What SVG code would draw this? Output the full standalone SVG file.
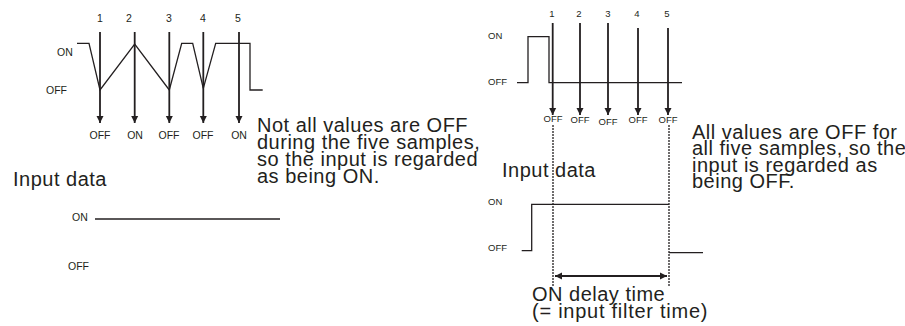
<svg xmlns="http://www.w3.org/2000/svg" width="905" height="326" viewBox="0 0 905 326">
<defs>
<marker id="ah" viewBox="0 0 10 10" refX="10" refY="5" markerWidth="7" markerHeight="8" markerUnits="userSpaceOnUse" orient="auto-start-reverse">
<path d="M0,0 L10,5 L0,10 z" fill="#231f20"/>
</marker>
<style>
.t{font-family:"Liberation Sans",Arial,sans-serif;fill:#231f20}
.big{font-size:20px;letter-spacing:0.5px}
.sm{font-size:10.5px}
.xs{font-size:9.5px}
.w{fill:none;stroke:#231f20;stroke-width:1.3}
.a{fill:none;stroke:#231f20;stroke-width:1.8;marker-end:url(#ah)}
.d{fill:none;stroke:#231f20;stroke-width:1.3;stroke-dasharray:2 1}
</style>
</defs>
<rect width="905" height="326" fill="#fff"/>

<g id="left-samples">
<g class="t sm" text-anchor="middle">
<text x="100" y="22">1</text><text x="129" y="22">2</text><text x="169" y="22">3</text><text x="203" y="22">4</text><text x="238" y="22">5</text>
</g>
<text class="t sm" x="57" y="55.5">ON</text>
<text class="t sm" x="46" y="94">OFF</text>
<polyline class="w" points="77,43.3 89,43.3 100,90 134.7,44 169.3,90 181.7,43.3 192.7,43.3 203.3,88.3 215.7,43.3 250,43.3 250,90 262.7,90"/>
</g>

<g id="connectors">
<line class="a" x1="100" y1="32" x2="100" y2="123"/>
<line class="a" x1="134.7" y1="32" x2="134.7" y2="123"/>
<line class="a" x1="169.3" y1="32" x2="169.3" y2="123"/>
<line class="a" x1="203.3" y1="32" x2="203.3" y2="123"/>
<line class="a" x1="239" y1="32" x2="239" y2="123"/>
<line class="a" x1="552.7" y1="23" x2="552.7" y2="115"/>
<line class="a" x1="580" y1="23" x2="580" y2="115"/>
<line class="a" x1="608" y1="23" x2="608" y2="115"/>
<line class="a" x1="638" y1="28" x2="638" y2="115"/>
<line class="a" x1="668" y1="28" x2="668" y2="115"/>
<line class="d" x1="553" y1="125" x2="553" y2="286"/>
<line class="d" x1="669" y1="125" x2="669" y2="286"/>
<line x1="555" y1="276" x2="667" y2="276" stroke="#231f20" stroke-width="2" marker-start="url(#ah)" marker-end="url(#ah)"/>
</g>

<g id="left-results" class="t sm" text-anchor="middle">
<text x="100" y="138.5">OFF</text><text x="135" y="138.5">ON</text><text x="169" y="138.5">OFF</text><text x="203" y="138.5">OFF</text><text x="239" y="138.5">ON</text>
</g>

<g id="left-note" class="t big">
<text x="257" y="131.5">Not all values are OFF</text>
<text x="257" y="148.5">during the five samples,</text>
<text x="257" y="165.5">so the input is regarded</text>
<text x="257" y="182.5">as being ON.</text>
</g>

<g id="left-input">
<text class="t big" x="13" y="186">Input data</text>
<text class="t sm" x="72" y="220.5">ON</text>
<text class="t sm" x="68" y="270">OFF</text>
<line class="w" x1="95" y1="219" x2="280" y2="219"/>
</g>

<g id="right-samples">
<g class="t xs" text-anchor="middle">
<text x="552" y="17">1</text><text x="579" y="17">2</text><text x="608" y="17">3</text><text x="637" y="17">4</text><text x="667" y="17">5</text>
</g>
<text class="t xs" x="488" y="38.5">ON</text>
<text class="t xs" x="488" y="85">OFF</text>
<polyline class="w" points="517,82.7 528,82.7 528,36.7 549,36.7 549,82.7 682,82.7"/>
</g>

<g id="right-results" class="t xs" text-anchor="middle">
<text x="553" y="121.5">OFF</text><text x="580" y="123">OFF</text><text x="608" y="124.5">OFF</text><text x="638" y="122.5">OFF</text><text x="668" y="123">OFF</text>
</g>

<g id="right-note" class="t big">
<text x="692" y="138.5">All values are OFF for</text>
<text x="692" y="155">all five samples, so the</text>
<text x="692" y="171.5">input is regarded as</text>
<text x="692" y="188">being OFF.</text>
</g>

<g id="right-input">
<text class="t big" x="502" y="177">Input data</text>
<text class="t xs" x="488" y="205">ON</text>
<text class="t xs" x="488" y="251">OFF</text>
<polyline class="w" points="521.7,250.7 531.7,250.7 531.7,204.3 669,204.3"/>
<polyline class="w" points="669,252.7 703,252.7"/>
</g>

<g id="delay-label" class="t big">
<text x="532" y="301">ON delay time</text>
<text x="532" y="318" textLength="176" lengthAdjust="spacing">(= input filter time)</text>
</g>
</svg>
